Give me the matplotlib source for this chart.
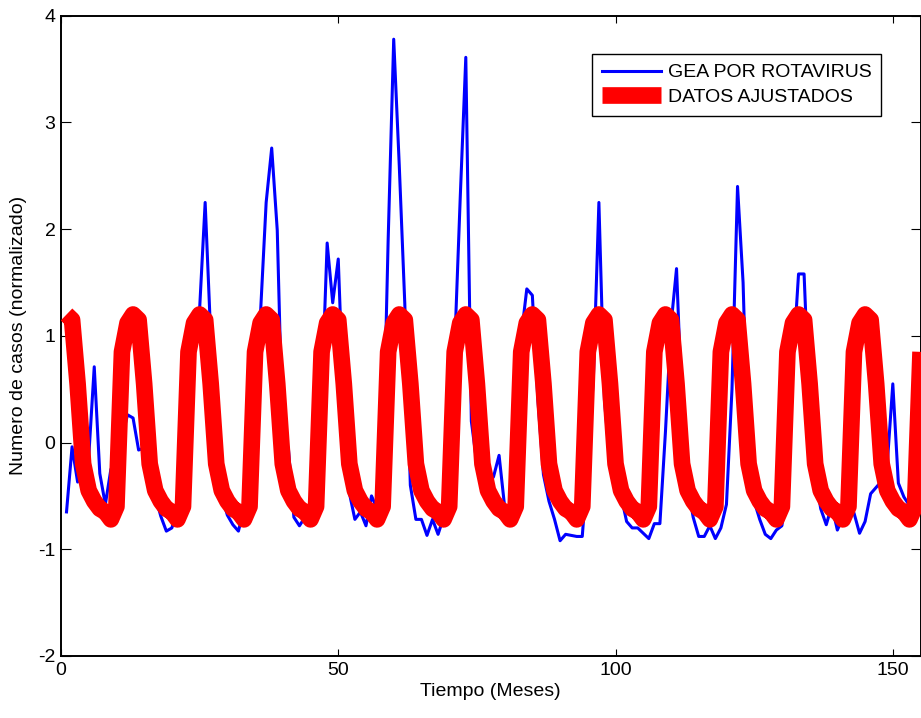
import numpy as np
import matplotlib
matplotlib.use('Agg')
import matplotlib.pyplot as plt

plt.rcParams['font.family'] = ['Liberation Sans', 'DejaVu Sans']
plt.rcParams['axes.unicode_minus'] = False

# meses 1..155
meses = np.arange(1, 156)

# casos de GEA por rotavirus (normalizado)
gea = [
    -0.65, -0.04, -0.37, -0.25, -0.14, 0.71, -0.29, -0.58, -0.25, -0.35, 0.05, 0.26,
    0.23, -0.07, -0.05, -0.30, -0.50, -0.69, -0.83, -0.80, -0.62, -0.55, 0.10, 1.00,
    1.25, 2.25, 1.00, -0.10, -0.50, -0.68, -0.77, -0.83, -0.62, -0.30, 0.50, 1.23,
    2.25, 2.76, 1.99, 0.00, -0.05, -0.70, -0.78, -0.70, -0.65, -0.60, 0.40, 1.87,
    1.31, 1.72, 0.30, -0.47, -0.72, -0.65, -0.78, -0.50, -0.62, -0.30, 1.90, 3.78,
    2.60, 1.30, -0.40, -0.72, -0.72, -0.87, -0.72, -0.86, -0.70, -0.30, 0.90, 2.30,
    3.61, 0.20, -0.20, -0.35, -0.40, -0.32, -0.12, -0.60, -0.70, -0.20, 1.00, 1.44,
    1.38, 0.40, -0.30, -0.55, -0.72, -0.92, -0.86, -0.87, -0.88, -0.88, -0.20, 0.60,
    2.25, 0.40, -0.20, -0.40, -0.50, -0.74, -0.80, -0.80, -0.85, -0.90, -0.76, -0.76,
    0.10, 1.10, 1.63, 0.30, -0.40, -0.70, -0.88, -0.88, -0.78, -0.90, -0.80, -0.58,
    0.50, 2.40, 1.50, -0.30, -0.55, -0.72, -0.86, -0.90, -0.82, -0.78, -0.40, 0.75,
    1.58, 1.58, 0.30, -0.30, -0.62, -0.77, -0.59, -0.82, -0.70, -0.62, -0.66, -0.85,
    -0.74, -0.48, -0.42, -0.36, -0.20, 0.55, -0.38, -0.51, -0.59, -0.62, -0.65,
]

# datos ajustados (modelo estacional)
ajuste = [
    1.20, 1.15, 0.55, -0.20, -0.45, -0.55, -0.62, -0.65, -0.72, -0.60, 0.85, 1.12,
    1.20, 1.15, 0.55, -0.20, -0.45, -0.55, -0.62, -0.65, -0.72, -0.60, 0.85, 1.12,
    1.20, 1.15, 0.55, -0.20, -0.45, -0.55, -0.62, -0.65, -0.72, -0.60, 0.85, 1.12,
    1.20, 1.15, 0.55, -0.20, -0.45, -0.55, -0.62, -0.65, -0.72, -0.60, 0.85, 1.12,
    1.20, 1.15, 0.55, -0.20, -0.45, -0.55, -0.62, -0.65, -0.72, -0.60, 0.85, 1.12,
    1.20, 1.15, 0.55, -0.20, -0.45, -0.55, -0.62, -0.65, -0.72, -0.60, 0.85, 1.12,
    1.20, 1.15, 0.55, -0.20, -0.45, -0.55, -0.62, -0.65, -0.72, -0.60, 0.85, 1.12,
    1.20, 1.15, 0.55, -0.20, -0.45, -0.55, -0.62, -0.65, -0.72, -0.60, 0.85, 1.12,
    1.20, 1.15, 0.55, -0.20, -0.45, -0.55, -0.62, -0.65, -0.72, -0.60, 0.85, 1.12,
    1.20, 1.15, 0.55, -0.20, -0.45, -0.55, -0.62, -0.65, -0.72, -0.60, 0.85, 1.12,
    1.20, 1.15, 0.55, -0.20, -0.45, -0.55, -0.62, -0.65, -0.72, -0.60, 0.85, 1.12,
    1.20, 1.15, 0.55, -0.20, -0.45, -0.55, -0.62, -0.65, -0.72, -0.60, 0.85, 1.12,
    1.20, 1.15, 0.55, -0.20, -0.45, -0.55, -0.62, -0.65, -0.72, -0.60, 0.85,
]

xticks = [0, 50, 100, 150]
yticks = [-2, -1, 0, 1, 2, 3, 4]

fig = plt.figure(figsize=(9.21, 7.18), dpi=100)
ax = fig.add_axes([0.0662, 0.0864, 0.9333, 0.8917])

ax.plot(meses, gea, color='#0000ff', lw=2.2, label='GEA POR ROTAVIRUS', zorder=2)
ax.plot(meses, ajuste, color='#ff0000', lw=12, label='DATOS AJUSTADOS',
        solid_joinstyle='round', solid_capstyle='butt', zorder=3)

ax.set_xlim(0, 155)
ax.set_ylim(-2, 4)
ax.set_xticks(xticks)
ax.set_yticks(yticks)
ax.tick_params(axis='both', direction='in', top=True, right=True,
               labelsize=14, width=0.8, pad=4)
ax.tick_params(axis='x', length=5)
ax.tick_params(axis='y', length=7)
for s in ax.spines.values():
    s.set_linewidth(1.4)

ax.set_xlabel('Tiempo (Meses)', fontsize=14, labelpad=3)
ax.set_ylabel('Numero de casos (normalizado)', fontsize=14, labelpad=8)

leg = ax.legend(loc='upper right', bbox_to_anchor=(0.954, 0.940), borderaxespad=0,
                fontsize=14, fancybox=False, framealpha=1, edgecolor='black',
                handlelength=3.0, handletextpad=0.36, borderpad=0.5,
                labelspacing=0.35)
leg.get_frame().set_linewidth(1.0)

fig.savefig('out.png', dpi=100)
